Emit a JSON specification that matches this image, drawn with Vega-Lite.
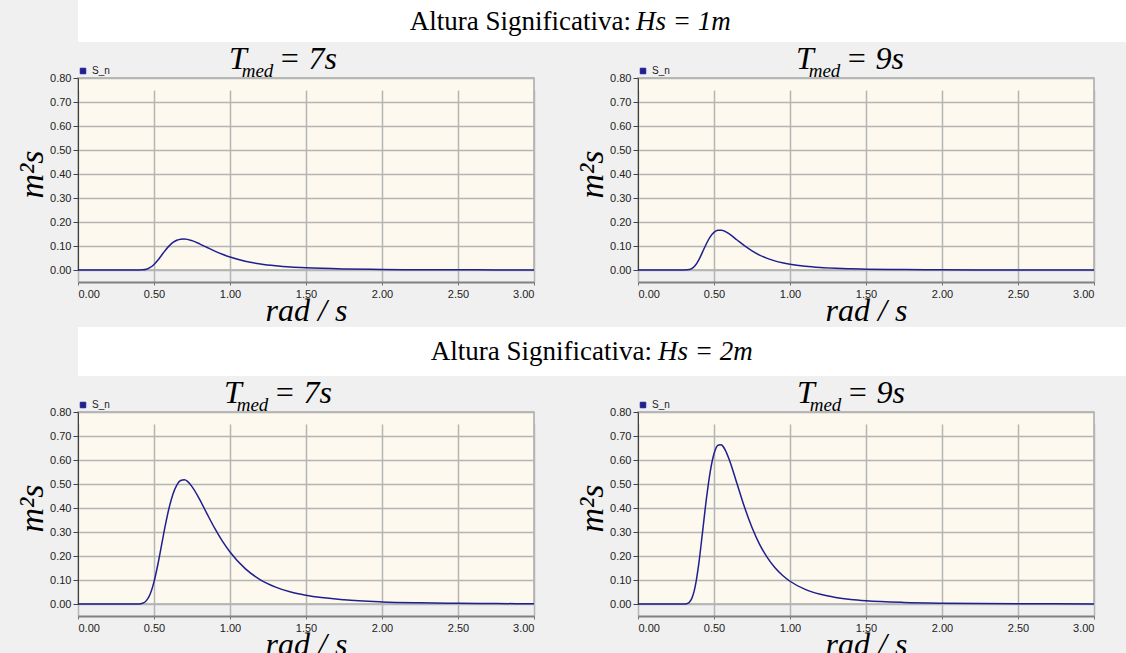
{
  "$schema": "https://vega.github.io/schema/vega-lite/v6.json",
  "background": "#F0F0F0",
  "padding": {"left": 14, "top": 0, "right": 0, "bottom": 0},
  "spacing": 0,
  "config": {
    "view": {"fill": "#FDF9EE", "stroke": "#A8A8A8", "strokeWidth": 1.5},
    "axis": {
      "labelFont": "Liberation Sans",
      "labelFontSize": 11,
      "labelColor": "#222222",
      "gridColor": "#B5B5B5",
      "gridWidth": 1.5,
      "titleFont": "Liberation Serif",
      "titleFontStyle": "italic",
      "titleFontWeight": "normal",
      "titleFontSize": 32,
      "titleColor": "#000000"
    },
    "axisX": {
      "offset": 12,
      "tickSize": 3,
      "labelPadding": 3,
      "titlePadding": -4,
      "domainColor": "#808080",
      "domainWidth": 2,
      "tickColor": "#707070"
    },
    "axisY": {
      "tickSize": 5,
      "labelPadding": 2,
      "titlePadding": 0,
      "titleFontSize": 34,
      "domainColor": "#404040",
      "tickColor": "#404040"
    },
    "title": {
      "font": "Liberation Serif",
      "fontStyle": "italic",
      "fontWeight": "normal",
      "fontSize": 32,
      "color": "#000000",
      "subtitleFont": "Liberation Serif",
      "subtitleFontStyle": "italic",
      "subtitleFontSize": 19,
      "subtitleColor": "#000000"
    },
    "legend": {
      "orient": "top",
      "symbolType": "square",
      "symbolSize": 30,
      "symbolFillColor": "#1F1F8F",
      "symbolStrokeColor": "#1F1F8F",
      "symbolStrokeWidth": 1,
      "labelFont": "Liberation Sans",
      "labelFontSize": 10,
      "labelColor": "#222222",
      "padding": 0,
      "offset": 2
    }
  },
  "datasets": {
    "spectra": [
      {"hs": 1, "t": 7, "w": 0.0, "s": 0},
      {"hs": 1, "t": 7, "w": 0.35, "s": 0},
      {"hs": 1, "t": 7, "w": 0.4, "s": 0.0001},
      {"hs": 1, "t": 7, "w": 0.425, "s": 0.0008},
      {"hs": 1, "t": 7, "w": 0.45, "s": 0.0035},
      {"hs": 1, "t": 7, "w": 0.475, "s": 0.0105},
      {"hs": 1, "t": 7, "w": 0.5, "s": 0.0231},
      {"hs": 1, "t": 7, "w": 0.525, "s": 0.0409},
      {"hs": 1, "t": 7, "w": 0.55, "s": 0.0617},
      {"hs": 1, "t": 7, "w": 0.575, "s": 0.0824},
      {"hs": 1, "t": 7, "w": 0.6, "s": 0.1006},
      {"hs": 1, "t": 7, "w": 0.625, "s": 0.1147},
      {"hs": 1, "t": 7, "w": 0.65, "s": 0.1239},
      {"hs": 1, "t": 7, "w": 0.675, "s": 0.1286},
      {"hs": 1, "t": 7, "w": 0.7, "s": 0.1294},
      {"hs": 1, "t": 7, "w": 0.75, "s": 0.1223},
      {"hs": 1, "t": 7, "w": 0.8, "s": 0.109},
      {"hs": 1, "t": 7, "w": 0.85, "s": 0.0936},
      {"hs": 1, "t": 7, "w": 0.9, "s": 0.0787},
      {"hs": 1, "t": 7, "w": 0.95, "s": 0.0654},
      {"hs": 1, "t": 7, "w": 1.0, "s": 0.0541},
      {"hs": 1, "t": 7, "w": 1.1, "s": 0.0368},
      {"hs": 1, "t": 7, "w": 1.2, "s": 0.0252},
      {"hs": 1, "t": 7, "w": 1.3, "s": 0.0176},
      {"hs": 1, "t": 7, "w": 1.4, "s": 0.0124},
      {"hs": 1, "t": 7, "w": 1.5, "s": 0.009},
      {"hs": 1, "t": 7, "w": 1.75, "s": 0.0043},
      {"hs": 1, "t": 7, "w": 2.0, "s": 0.0022},
      {"hs": 1, "t": 7, "w": 2.25, "s": 0.0012},
      {"hs": 1, "t": 7, "w": 2.5, "s": 0.0007},
      {"hs": 1, "t": 7, "w": 2.75, "s": 0.0005},
      {"hs": 1, "t": 7, "w": 3.0, "s": 0.0003},

      {"hs": 1, "t": 9, "w": 0.0, "s": 0},
      {"hs": 1, "t": 9, "w": 0.3, "s": 0},
      {"hs": 1, "t": 9, "w": 0.325, "s": 0.0006},
      {"hs": 1, "t": 9, "w": 0.35, "s": 0.0045},
      {"hs": 1, "t": 9, "w": 0.375, "s": 0.0173},
      {"hs": 1, "t": 9, "w": 0.4, "s": 0.0421},
      {"hs": 1, "t": 9, "w": 0.425, "s": 0.0754},
      {"hs": 1, "t": 9, "w": 0.45, "s": 0.1095},
      {"hs": 1, "t": 9, "w": 0.475, "s": 0.1377},
      {"hs": 1, "t": 9, "w": 0.5, "s": 0.1565},
      {"hs": 1, "t": 9, "w": 0.525, "s": 0.1653},
      {"hs": 1, "t": 9, "w": 0.54, "s": 0.166},
      {"hs": 1, "t": 9, "w": 0.55, "s": 0.1657},
      {"hs": 1, "t": 9, "w": 0.575, "s": 0.1601},
      {"hs": 1, "t": 9, "w": 0.6, "s": 0.1505},
      {"hs": 1, "t": 9, "w": 0.65, "s": 0.126},
      {"hs": 1, "t": 9, "w": 0.7, "s": 0.1012},
      {"hs": 1, "t": 9, "w": 0.75, "s": 0.0797},
      {"hs": 1, "t": 9, "w": 0.8, "s": 0.0622},
      {"hs": 1, "t": 9, "w": 0.85, "s": 0.0486},
      {"hs": 1, "t": 9, "w": 0.9, "s": 0.038},
      {"hs": 1, "t": 9, "w": 0.95, "s": 0.03},
      {"hs": 1, "t": 9, "w": 1.0, "s": 0.0237},
      {"hs": 1, "t": 9, "w": 1.1, "s": 0.0152},
      {"hs": 1, "t": 9, "w": 1.2, "s": 0.0101},
      {"hs": 1, "t": 9, "w": 1.3, "s": 0.0069},
      {"hs": 1, "t": 9, "w": 1.4, "s": 0.0048},
      {"hs": 1, "t": 9, "w": 1.5, "s": 0.0034},
      {"hs": 1, "t": 9, "w": 1.75, "s": 0.0016},
      {"hs": 1, "t": 9, "w": 2.0, "s": 0.0008},
      {"hs": 1, "t": 9, "w": 2.5, "s": 0.0003},
      {"hs": 1, "t": 9, "w": 3.0, "s": 0.0001},

      {"hs": 2, "t": 7, "w": 0.0, "s": 0},
      {"hs": 2, "t": 7, "w": 0.35, "s": 0},
      {"hs": 2, "t": 7, "w": 0.4, "s": 0.0004},
      {"hs": 2, "t": 7, "w": 0.425, "s": 0.0031},
      {"hs": 2, "t": 7, "w": 0.45, "s": 0.014},
      {"hs": 2, "t": 7, "w": 0.475, "s": 0.0418},
      {"hs": 2, "t": 7, "w": 0.5, "s": 0.0924},
      {"hs": 2, "t": 7, "w": 0.525, "s": 0.1636},
      {"hs": 2, "t": 7, "w": 0.55, "s": 0.2468},
      {"hs": 2, "t": 7, "w": 0.575, "s": 0.3296},
      {"hs": 2, "t": 7, "w": 0.6, "s": 0.4024},
      {"hs": 2, "t": 7, "w": 0.625, "s": 0.4588},
      {"hs": 2, "t": 7, "w": 0.65, "s": 0.4956},
      {"hs": 2, "t": 7, "w": 0.675, "s": 0.5144},
      {"hs": 2, "t": 7, "w": 0.7, "s": 0.5176},
      {"hs": 2, "t": 7, "w": 0.75, "s": 0.4892},
      {"hs": 2, "t": 7, "w": 0.8, "s": 0.436},
      {"hs": 2, "t": 7, "w": 0.85, "s": 0.3744},
      {"hs": 2, "t": 7, "w": 0.9, "s": 0.3148},
      {"hs": 2, "t": 7, "w": 0.95, "s": 0.2616},
      {"hs": 2, "t": 7, "w": 1.0, "s": 0.2164},
      {"hs": 2, "t": 7, "w": 1.1, "s": 0.1472},
      {"hs": 2, "t": 7, "w": 1.2, "s": 0.1008},
      {"hs": 2, "t": 7, "w": 1.3, "s": 0.0704},
      {"hs": 2, "t": 7, "w": 1.4, "s": 0.0496},
      {"hs": 2, "t": 7, "w": 1.5, "s": 0.036},
      {"hs": 2, "t": 7, "w": 1.75, "s": 0.0172},
      {"hs": 2, "t": 7, "w": 2.0, "s": 0.0088},
      {"hs": 2, "t": 7, "w": 2.25, "s": 0.005},
      {"hs": 2, "t": 7, "w": 2.5, "s": 0.0029},
      {"hs": 2, "t": 7, "w": 2.75, "s": 0.0018},
      {"hs": 2, "t": 7, "w": 3.0, "s": 0.0012},

      {"hs": 2, "t": 9, "w": 0.0, "s": 0},
      {"hs": 2, "t": 9, "w": 0.3, "s": 0},
      {"hs": 2, "t": 9, "w": 0.325, "s": 0.0023},
      {"hs": 2, "t": 9, "w": 0.35, "s": 0.018},
      {"hs": 2, "t": 9, "w": 0.375, "s": 0.0692},
      {"hs": 2, "t": 9, "w": 0.4, "s": 0.1684},
      {"hs": 2, "t": 9, "w": 0.425, "s": 0.3016},
      {"hs": 2, "t": 9, "w": 0.45, "s": 0.438},
      {"hs": 2, "t": 9, "w": 0.475, "s": 0.5508},
      {"hs": 2, "t": 9, "w": 0.5, "s": 0.626},
      {"hs": 2, "t": 9, "w": 0.525, "s": 0.6612},
      {"hs": 2, "t": 9, "w": 0.54, "s": 0.664},
      {"hs": 2, "t": 9, "w": 0.55, "s": 0.6628},
      {"hs": 2, "t": 9, "w": 0.575, "s": 0.6404},
      {"hs": 2, "t": 9, "w": 0.6, "s": 0.602},
      {"hs": 2, "t": 9, "w": 0.65, "s": 0.504},
      {"hs": 2, "t": 9, "w": 0.7, "s": 0.4048},
      {"hs": 2, "t": 9, "w": 0.75, "s": 0.3188},
      {"hs": 2, "t": 9, "w": 0.8, "s": 0.2488},
      {"hs": 2, "t": 9, "w": 0.85, "s": 0.1944},
      {"hs": 2, "t": 9, "w": 0.9, "s": 0.152},
      {"hs": 2, "t": 9, "w": 0.95, "s": 0.1198},
      {"hs": 2, "t": 9, "w": 1.0, "s": 0.0948},
      {"hs": 2, "t": 9, "w": 1.1, "s": 0.061},
      {"hs": 2, "t": 9, "w": 1.2, "s": 0.0403},
      {"hs": 2, "t": 9, "w": 1.3, "s": 0.0274},
      {"hs": 2, "t": 9, "w": 1.4, "s": 0.0191},
      {"hs": 2, "t": 9, "w": 1.5, "s": 0.0136},
      {"hs": 2, "t": 9, "w": 1.75, "s": 0.0064},
      {"hs": 2, "t": 9, "w": 2.0, "s": 0.0033},
      {"hs": 2, "t": 9, "w": 2.5, "s": 0.0011},
      {"hs": 2, "t": 9, "w": 3.0, "s": 0.0004}
    ]
  },
  "resolve": {"scale": {"color": "independent"}, "legend": {"color": "independent"}},
  "vconcat": [
    {
      "width": 1048,
      "height": 42,
      "view": {"fill": "#FFFFFF", "stroke": null},
      "data": {"values": [{"a": "Altura Significativa:", "b": "Hs = 1m"}]},
      "layer": [
        {"mark": {"type": "text", "align": "right", "dx": 29, "dy": 1, "font": "Liberation Serif", "fontSize": 27, "color": "#000000"}, "encoding": {"text": {"field": "a"}}},
        {"mark": {"type": "text", "align": "left", "dx": 34, "dy": 1, "font": "Liberation Serif", "fontStyle": "italic", "fontSize": 27, "color": "#000000"}, "encoding": {"text": {"field": "b"}}}
      ]
    },
    {
      "spacing": 36,
      "resolve": {"scale": {"color": "independent"}, "legend": {"color": "independent"}},
      "hconcat": [
        {
          "width": 456, "height": 192,
          "data": {"name": "spectra"},
          "transform": [{"filter": "datum.hs == 1 && datum.t == 7"}],
          "title": {"text": "T\u00a0\u00a0\u00a0\u00a0= 7s", "subtitle": "\u200b\u00a0\u00a0\u2006med", "anchor": "middle", "frame": "group", "align": "left", "dx": -77, "offset": -16, "subtitlePadding": -14},
          "mark": {"type": "line", "interpolate": "monotone", "strokeWidth": 1.5},
          "encoding": {
            "x": {"field": "w", "type": "quantitative", "scale": {"domain": [0, 3], "nice": false}, "axis": {"title": "rad / s", "values": [0, 0.5, 1, 1.5, 2, 2.5, 3], "format": ".2f"}},
            "y": {"field": "s", "type": "quantitative", "scale": {"domain": [0, 0.8], "nice": false}, "axis": {"title": "m²s", "values": [0, 0.1, 0.2, 0.3, 0.4, 0.5, 0.6, 0.7, 0.8], "format": ".2f"}},
            "color": {"datum": "S_n", "scale": {"range": ["#1F1F8F"]}, "legend": {"title": null}}
          }
        },
        {
          "width": 456, "height": 192,
          "data": {"name": "spectra"},
          "transform": [{"filter": "datum.hs == 1 && datum.t == 9"}],
          "title": {"text": "T\u00a0\u00a0\u00a0\u00a0= 9s", "subtitle": "\u200b\u00a0\u00a0\u2006med", "anchor": "middle", "frame": "group", "align": "left", "dx": -70, "offset": -16, "subtitlePadding": -14},
          "mark": {"type": "line", "interpolate": "monotone", "strokeWidth": 1.5},
          "encoding": {
            "x": {"field": "w", "type": "quantitative", "scale": {"domain": [0, 3], "nice": false}, "axis": {"title": "rad / s", "values": [0, 0.5, 1, 1.5, 2, 2.5, 3], "format": ".2f"}},
            "y": {"field": "s", "type": "quantitative", "scale": {"domain": [0, 0.8], "nice": false}, "axis": {"title": "m²s", "values": [0, 0.1, 0.2, 0.3, 0.4, 0.5, 0.6, 0.7, 0.8], "format": ".2f"}},
            "color": {"datum": "S_n", "scale": {"range": ["#1F1F8F"]}, "legend": {"title": null}}
          }
        }
      ]
    },
    {
      "width": 1048,
      "height": 49,
      "view": {"fill": "#FFFFFF", "stroke": null},
      "data": {"values": [{"a": "Altura Significativa:", "b": "Hs = 2m"}]},
      "layer": [
        {"mark": {"type": "text", "align": "right", "dx": 50, "font": "Liberation Serif", "fontSize": 27, "color": "#000000"}, "encoding": {"text": {"field": "a"}}},
        {"mark": {"type": "text", "align": "left", "dx": 56, "font": "Liberation Serif", "fontStyle": "italic", "fontSize": 27, "color": "#000000"}, "encoding": {"text": {"field": "b"}}}
      ]
    },
    {
      "spacing": 36,
      "resolve": {"scale": {"color": "independent"}, "legend": {"color": "independent"}},
      "hconcat": [
        {
          "width": 456, "height": 192,
          "data": {"name": "spectra"},
          "transform": [{"filter": "datum.hs == 2 && datum.t == 7"}],
          "title": {"text": "T\u00a0\u00a0\u00a0\u00a0= 7s", "subtitle": "\u200b\u00a0\u00a0\u2006med", "anchor": "middle", "frame": "group", "align": "left", "dx": -82, "offset": -16, "subtitlePadding": -14},
          "mark": {"type": "line", "interpolate": "monotone", "strokeWidth": 1.5},
          "encoding": {
            "x": {"field": "w", "type": "quantitative", "scale": {"domain": [0, 3], "nice": false}, "axis": {"title": "rad / s", "values": [0, 0.5, 1, 1.5, 2, 2.5, 3], "format": ".2f"}},
            "y": {"field": "s", "type": "quantitative", "scale": {"domain": [0, 0.8], "nice": false}, "axis": {"title": "m²s", "values": [0, 0.1, 0.2, 0.3, 0.4, 0.5, 0.6, 0.7, 0.8], "format": ".2f"}},
            "color": {"datum": "S_n", "scale": {"range": ["#1F1F8F"]}, "legend": {"title": null}}
          }
        },
        {
          "width": 456, "height": 192,
          "data": {"name": "spectra"},
          "transform": [{"filter": "datum.hs == 2 && datum.t == 9"}],
          "title": {"text": "T\u00a0\u00a0\u00a0\u00a0= 9s", "subtitle": "\u200b\u00a0\u00a0\u2006med", "anchor": "middle", "frame": "group", "align": "left", "dx": -69, "offset": -16, "subtitlePadding": -14},
          "mark": {"type": "line", "interpolate": "monotone", "strokeWidth": 1.5},
          "encoding": {
            "x": {"field": "w", "type": "quantitative", "scale": {"domain": [0, 3], "nice": false}, "axis": {"title": "rad / s", "values": [0, 0.5, 1, 1.5, 2, 2.5, 3], "format": ".2f"}},
            "y": {"field": "s", "type": "quantitative", "scale": {"domain": [0, 0.8], "nice": false}, "axis": {"title": "m²s", "values": [0, 0.1, 0.2, 0.3, 0.4, 0.5, 0.6, 0.7, 0.8], "format": ".2f"}},
            "color": {"datum": "S_n", "scale": {"range": ["#1F1F8F"]}, "legend": {"title": null}}
          }
        }
      ]
    }
  ]
}
